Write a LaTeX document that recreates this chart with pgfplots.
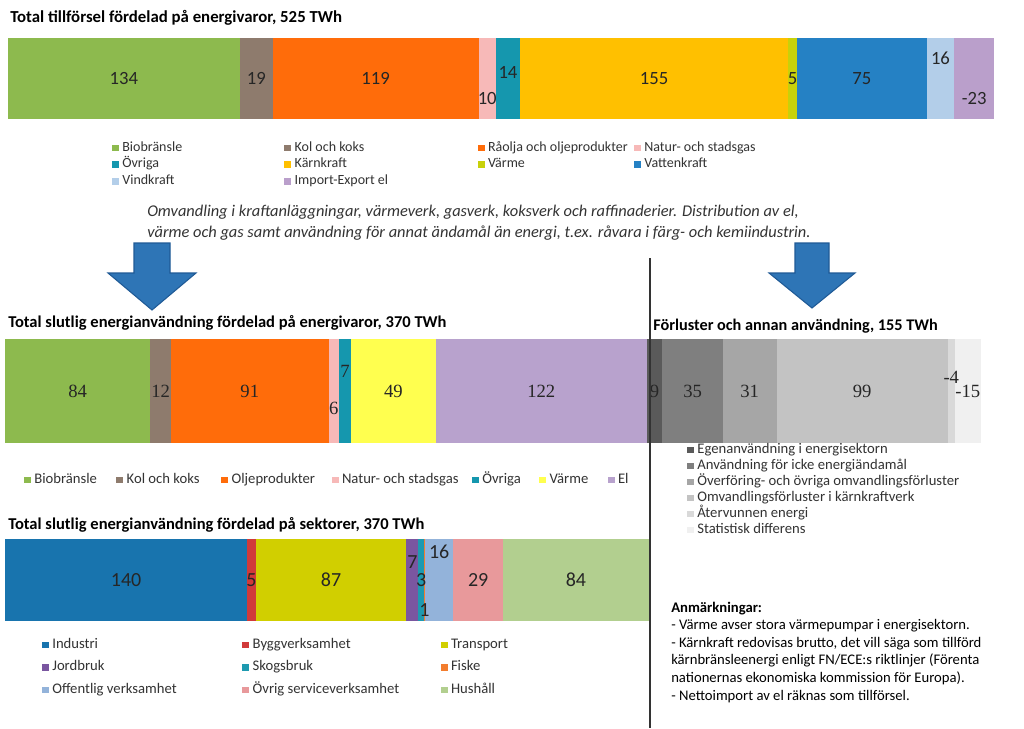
\documentclass[border=0pt]{standalone}
\usepackage{pgfplots}
\pgfplotsset{compat=1.18}
\usepackage{fontspec}
\setmainfont{Carlito}
\newfontfamily\numserif{Liberation Serif}

\definecolor{bio}{HTML}{8DBA4E}
\definecolor{kol}{HTML}{8E7B6D}
\definecolor{olja}{HTML}{FF6C0A}
\definecolor{gas}{HTML}{F7B9B8}
\definecolor{ovr}{HTML}{1597AE}
\definecolor{karn}{HTML}{FFC000}
\definecolor{varmeA}{HTML}{C8D10A}
\definecolor{vatten}{HTML}{2581C4}
\definecolor{vind}{HTML}{B3CEE9}
\definecolor{imp}{HTML}{BA9FCB}
\definecolor{varmeB}{HTML}{FFFF4F}
\definecolor{el}{HTML}{B8A2CD}
\definecolor{gA}{HTML}{5A5A5A}
\definecolor{gB}{HTML}{7F7F7F}
\definecolor{gC}{HTML}{A6A6A6}
\definecolor{gD}{HTML}{C3C3C3}
\definecolor{gE}{HTML}{D9D9D9}
\definecolor{gF}{HTML}{F0F0F0}
\definecolor{ind}{HTML}{1874AE}
\definecolor{bygg}{HTML}{D13A3A}
\definecolor{trans}{HTML}{D1CF00}
\definecolor{jord}{HTML}{7A56A0}
\definecolor{skog}{HTML}{1E9AB0}
\definecolor{fiske}{HTML}{F37D2E}
\definecolor{off}{HTML}{93B3DA}
\definecolor{serv}{HTML}{E8999B}
\definecolor{hush}{HTML}{B2CF8F}
\definecolor{arrowblue}{HTML}{2E75B6}
\definecolor{arrowdark}{HTML}{1F5A96}
\definecolor{txt}{HTML}{333333}

\pgfplotsset{
  seg/.style n args={3}{fill=#1, draw=none,
    every node near coord/.append style={anchor=center, yshift={-(#3)*0.75pt}}},
  baraxis/.style={scale only axis, hide axis, xbar stacked, xmin=0, ymin=-0.5, ymax=0.5,
    anchor=north west, clip=false, point meta=explicit symbolic,
    nodes near coords={\pgfplotspointmeta},
    every node near coord/.append style={text=black!85, inner sep=0pt},
    legend cell align=left,
    legend image code/.code={\fill[##1] (0pt,-2.6pt) rectangle (5.25pt,2.6pt);},
    legend style={draw=none, fill=none, inner sep=0pt, outer sep=0pt, anchor=north west,
      column sep=0pt, row sep=0pt, font=\fontsize{11}{12.4}\selectfont,
      nodes={inner sep=0pt, outer sep=0pt, anchor=west, text height=8.7pt, text depth=3.7pt, text=txt}}},
}

\begin{document}
\begin{tikzpicture}
\useasboundingbox (0,0) rectangle (768pt,-546pt);
\fill[white] (0,0) rectangle (768pt,-546pt);

% ---------- Total tillforsel ----------
\begin{axis}[baraxis, at={(6pt,-28.5pt)}, width=739.575pt, height=60.75pt, xmax=570, bar width=60.75pt,
  every node near coord/.append style={font=\fontsize{14}{14}\selectfont},
  legend columns=4, legend style={at={(0.1055,-0.2562)}, font=\fontsize{10.5}{12.4}\selectfont}]
\addplot[seg={bio}{134}{0}] coordinates {(134,0) [134]};
\addlegendentry{\hspace*{2.5pt}\makebox[121.5pt][l]{Biobränsle}}
\addplot[seg={kol}{19}{0}] coordinates {(19,0) [19]};
\addlegendentry{\hspace*{2.5pt}\makebox[137.25pt][l]{Kol och koks}}
\addplot[seg={olja}{119}{0}] coordinates {(119,0) [119]};
\addlegendentry{\hspace*{2.5pt}\makebox[109.5pt][l]{Råolja och oljeprodukter}}
\addplot[seg={gas}{10}{20}] coordinates {(10,0) [10]};
\addlegendentry{\hspace*{2.5pt}Natur- och stadsgas}
\addplot[seg={ovr}{14}{-6}] coordinates {(14,0) [14]};
\addlegendentry{\hspace*{2.5pt}\makebox[121.5pt][l]{Övriga}}
\addplot[seg={karn}{155}{0}] coordinates {(155,0) [155]};
\addlegendentry{\hspace*{2.5pt}\makebox[137.25pt][l]{Kärnkraft}}
\addplot[seg={varmeA}{5}{0}] coordinates {(5,0) [5]};
\addlegendentry{\hspace*{2.5pt}\makebox[109.5pt][l]{Värme}}
\addplot[seg={vatten}{75}{0}] coordinates {(75,0) [75]};
\addlegendentry{\hspace*{2.5pt}Vattenkraft}
\addplot[seg={vind}{16}{-20}] coordinates {(16,0) [16]};
\addlegendentry{\hspace*{2.5pt}\makebox[121.5pt][l]{Vindkraft}}
\addplot[seg={imp}{23}{20}] coordinates {(23,0) [-23]};
\addlegendentry{\hspace*{2.5pt}\makebox[137.25pt][l]{Import-Export el}}
\end{axis}

% ---------- Slutlig anvandning per energivara ----------
\begin{axis}[baraxis, at={(3.75pt,-254.25pt)}, width=481.37pt, height=78pt, xmax=371, bar width=78pt,
  every node near coord/.append style={font=\numserif\fontsize{14}{14}\selectfont},
  legend columns=7, legend style={at={(0.0296,-0.276)}}]
\addplot[seg={bio}{84}{0}] coordinates {(84,0) [84]};
\addlegendentry{\hspace*{2.5pt}\makebox[61.5pt][l]{Biobränsle}}
\addplot[seg={kol}{12}{0}] coordinates {(12,0) [12]};
\addlegendentry{\hspace*{2.5pt}\makebox[71pt][l]{Kol och koks}}
\addplot[seg={olja}{91}{0}] coordinates {(91,0) [91]};
\addlegendentry{\hspace*{2.5pt}\makebox[75pt][l]{Oljeprodukter}}
\addplot[seg={gas}{6}{17}] coordinates {(6,0) [6]};
\addlegendentry{\hspace*{2.5pt}\makebox[97.5pt][l]{Natur- och stadsgas}}
\addplot[seg={ovr}{7}{-20}] coordinates {(7,0) [7]};
\addlegendentry{\hspace*{2.5pt}\makebox[42.75pt][l]{Övriga}}
\addplot[seg={varmeB}{49}{0}] coordinates {(49,0) [49]};
\addlegendentry{\hspace*{2.5pt}\makebox[43.5pt][l]{Värme}}
\addplot[seg={el}{122}{0}] coordinates {(122,0) [122]};
\addlegendentry{\hspace*{2.5pt}El}
\end{axis}

% ---------- Forluster ----------
\begin{axis}[baraxis, at={(485.1pt,-254.25pt)}, width=250.42pt, height=78pt, xmax=193, bar width=78pt,
  every node near coord/.append style={font=\numserif\fontsize{14}{14}\selectfont},
  legend columns=1, legend style={at={(0.1204,0.0096)}, font=\fontsize{11}{12}\selectfont,
    nodes={text height=8.4pt, text depth=3.6pt}}]
\addplot[seg={gA}{9}{0}] coordinates {(9,0) [9]};
\addlegendentry{\hspace*{2.5pt}Egenanvändning i energisektorn}
\addplot[seg={gB}{35}{0}] coordinates {(35,0) [35]};
\addlegendentry{\hspace*{2.5pt}Användning för icke energiändamål}
\addplot[seg={gC}{31}{0}] coordinates {(31,0) [31]};
\addlegendentry{\hspace*{2.5pt}Överföring- och övriga omvandlingsförluster}
\addplot[seg={gD}{99}{0}] coordinates {(99,0) [99]};
\addlegendentry{\hspace*{2.5pt}Omvandlingsförluster i kärnkraftverk}
\addplot[seg={gE}{4}{-14}] coordinates {(4,0) [-4]};
\addlegendentry{\hspace*{2.5pt}Återvunnen energi}
\addplot[seg={gF}{15}{0}] coordinates {(15,0) [-15]};
\addlegendentry{\hspace*{2.5pt}Statistisk differens}
\end{axis}

% ---------- Slutlig anvandning per sektor ----------
\begin{axis}[baraxis, at={(3.75pt,-404.25pt)}, width=482.67pt, height=61.5pt, xmax=372, bar width=61.5pt,
  every node near coord/.append style={font=\fontsize{15}{15}\selectfont},
  legend columns=3, legend style={at={(0.0575,-0.192)}, row sep=4.47pt}]
\addplot[seg={ind}{140}{0}] coordinates {(140,0) [140]};
\addlegendentry{\hspace*{2.5pt}\makebox[142.5pt][l]{Industri}}
\addplot[seg={bygg}{5}{0}] coordinates {(5,0) [5]};
\addlegendentry{\hspace*{2.5pt}\makebox[141pt][l]{Byggverksamhet}}
\addplot[seg={trans}{87}{0}] coordinates {(87,0) [87]};
\addlegendentry{\hspace*{2.5pt}Transport}
\addplot[seg={jord}{7}{-18}] coordinates {(7,0) [7]};
\addlegendentry{\hspace*{2.5pt}\makebox[142.5pt][l]{Jordbruk}}
\addplot[seg={skog}{3}{0}] coordinates {(3,0) [3]};
\addlegendentry{\hspace*{2.5pt}\makebox[141pt][l]{Skogsbruk}}
\addplot[seg={fiske}{1}{30}] coordinates {(1,0) [1]};
\addlegendentry{\hspace*{2.5pt}Fiske}
\addplot[seg={off}{16}{-28}] coordinates {(16,0) [16]};
\addlegendentry{\hspace*{2.5pt}\makebox[142.5pt][l]{Offentlig verksamhet}}
\addplot[seg={serv}{29}{0}] coordinates {(29,0) [29]};
\addlegendentry{\hspace*{2.5pt}\makebox[141pt][l]{Övrig serviceverksamhet}}
\addplot[seg={hush}{84}{0}] coordinates {(84,0) [84]};
\addlegendentry{\hspace*{2.5pt}Hushåll}
\end{axis}

% ---------- Texts, arrows, divider ----------
\begin{scope}[x=0.75pt, y=-0.75pt]
\node[anchor=base west, inner sep=0pt, font=\bfseries\fontsize{12.6}{14}\selectfont] at (10,22)
  {Total tillförsel fördelad på energivaror, 525 TWh};
\node[anchor=base west, inner sep=0pt, font=\bfseries\fontsize{12.4}{14}\selectfont] at (8,327)
  {Total slutlig energianvändning fördelad på energivaror, 370 TWh};
\node[anchor=base west, inner sep=0pt, font=\bfseries\fontsize{12.2}{14}\selectfont] at (653,330)
  {Förluster och annan användning, 155 TWh};
\node[anchor=base west, inner sep=0pt, font=\bfseries\fontsize{12.4}{14}\selectfont] at (8,529)
  {Total slutlig energianvändning fördelad på sektorer, 370 TWh};

\node[anchor=base west, inner sep=0pt, text=txt, font=\itshape\fontsize{12.3}{14}\selectfont] at (147,216)
  {Omvandling i kraftanläggningar, värmeverk, gasverk, koksverk och raffinaderier. Distribution av el,};
\node[anchor=base west, inner sep=0pt, text=txt, font=\itshape\fontsize{12.3}{14}\selectfont] at (147,237)
  {värme och gas samt användning för annat ändamål än energi, t.ex. råvara i färg- och kemiindustrin.};

\filldraw[fill=arrowblue, draw=arrowdark, line width=0.8pt]
  (134,243) -- (170,243) -- (170,273) -- (196,273) -- (152,310) -- (108,273) -- (134,273) -- cycle;
\filldraw[fill=arrowblue, draw=arrowdark, line width=0.8pt]
  (795,243) -- (829,243) -- (829,273) -- (855,273) -- (812,308) -- (769,273) -- (795,273) -- cycle;

\draw[black!80, line width=0.8pt] (650,258) -- (650,728);

\node[anchor=base west, inner sep=0pt, font=\bfseries\fontsize{11}{12}\selectfont] at (671,612) {Anmärkningar:};
\node[anchor=base west, inner sep=0pt, font=\fontsize{11}{12}\selectfont] at (671,629.6) {- Värme avser stora värmepumpar i energisektorn.};
\node[anchor=base west, inner sep=0pt, font=\fontsize{11}{12}\selectfont] at (671,647.2) {- Kärnkraft redovisas brutto, det vill säga som tillförd};
\node[anchor=base west, inner sep=0pt, font=\fontsize{11}{12}\selectfont] at (671,664.8) {kärnbränsleenergi enligt FN/ECE:s riktlinjer (Förenta};
\node[anchor=base west, inner sep=0pt, font=\fontsize{11}{12}\selectfont] at (671,682.4) {nationernas ekonomiska kommission för Europa).};
\node[anchor=base west, inner sep=0pt, font=\fontsize{11}{12}\selectfont] at (671,700) {- Nettoimport av el räknas som tillförsel.};
\end{scope}
\end{tikzpicture}
\end{document}
